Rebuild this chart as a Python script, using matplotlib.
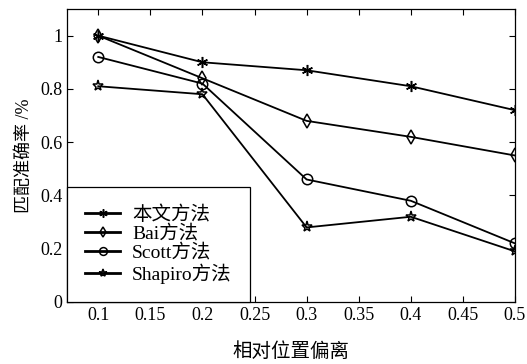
import matplotlib
matplotlib.use("Agg")
import matplotlib.pyplot as plt

x = [0.1, 0.2, 0.3, 0.4, 0.5]
ours = [1.0, 0.90, 0.87, 0.81, 0.72]
bai = [1.0, 0.84, 0.68, 0.62, 0.55]
scott = [0.92, 0.82, 0.46, 0.38, 0.22]
shapiro = [0.81, 0.78, 0.28, 0.32, 0.19]
labels = ["本文方法", "Bai方法", "Scott方法", "Shapiro方法"]
xticks = [0.1, 0.15, 0.2, 0.25, 0.3, 0.35, 0.4, 0.45, 0.5]
yticks = [0, 0.2, 0.4, 0.6, 0.8, 1.0]

plt.rcParams['font.family'] = ['Liberation Serif', 'Noto Sans CJK SC']
plt.rcParams['axes.unicode_minus'] = False

fig = plt.figure(figsize=(5.27, 3.64), dpi=100)
ax = fig.add_axes([67/527, 1 - 302/364, (515-67)/527, (302-9)/364])

kw = dict(color='black', linewidth=1.3, markerfacecolor='none', markeredgecolor='black',
          markeredgewidth=1.1)
ax.plot(x, ours, marker=(6, 2, 0), markersize=8, label=labels[0], **kw)
ax.plot(x, bai, marker='d', markersize=7, label=labels[1], **kw)
ax.plot(x, scott, marker='o', markersize=7.5, label=labels[2], **kw)
ax.plot(x, shapiro, marker='*', markersize=8, label=labels[3], **kw)

ax.set_xlim(0.07, 0.5)
ax.set_ylim(0, 1.1)
ax.set_xticks(xticks)
ax.set_xticklabels(['0.1', '0.15', '0.2', '0.25', '0.3', '0.35', '0.4', '0.45', '0.5'])
ax.set_yticks(yticks)
ax.set_yticklabels(['0', '0.2', '0.4', '0.6', '0.8', '1'])
ax.tick_params(direction='in', top=True, right=True, labelsize=13, length=4, width=0.8)
for s in ax.spines.values():
    s.set_linewidth(0.9)

ax.set_xlabel('相对位置偏离', fontsize=14, family=['Noto Sans CJK SC'], labelpad=12)
ax.set_ylabel('匹配准确率 /%', fontsize=13, labelpad=5)

leg = ax.legend(loc='lower left', borderaxespad=0, fancybox=False, edgecolor='black',
                fontsize=14, handlelength=1.8, labelspacing=0.05, borderpad=0.95,
                handletextpad=0.6, framealpha=1, markerscale=0.75)
leg.get_frame().set_linewidth(0.9)
for h in leg.get_lines():
    h.set_linewidth(2.0)

fig.savefig('out.png', dpi=100)
